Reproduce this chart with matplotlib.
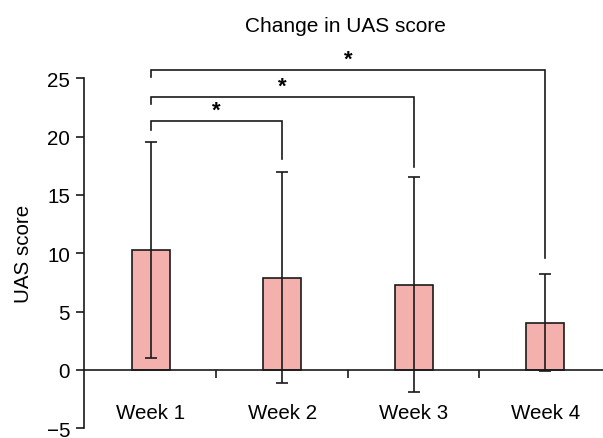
import matplotlib
matplotlib.use("Agg")
import matplotlib.pyplot as plt
import numpy as np

plt.rcParams['font.family'] = ['Liberation Sans', 'DejaVu Sans']

categories = ["Week 1", "Week 2", "Week 3", "Week 4"]
means = [10.3, 7.9, 7.3, 4.05]
sds = [9.25, 9.05, 9.2, 4.15]
yticks = [-5, 0, 5, 10, 15, 20, 25]
# brackets: (from index, to index, bar height, left leg bottom, right leg bottom)
brackets = [(0, 1, 21.3, 20.6, 18.1), (0, 2, 23.4, 22.8, 17.4), (0, 3, 25.7, 25.1, 9.6)]

fig = plt.figure(figsize=(6.03, 4.39), dpi=100)
ax = fig.add_axes([84/603, 1-429.3/439, 1-84/603, (429.3-79.3)/439])

x = np.arange(len(categories))
ax.bar(x, means, width=0.29, color='#F4B0AC', edgecolor='#1a1a1a', linewidth=1.2, zorder=2)
ax.errorbar(x, means, yerr=sds, fmt='none', ecolor='#1a1a1a', elinewidth=1.2,
            capsize=4, capthick=1.2, zorder=3)

ax.set_ylim(-5, 25)
ax.set_xlim(-0.507, 3.44)
ax.set_yticks(yticks)
ax.set_yticklabels([str(v).replace('-', '\u2212') for v in yticks], fontsize=14.8)

ax.spines['top'].set_visible(False)
ax.spines['right'].set_visible(False)
ax.spines['bottom'].set_position(('data', 0))
for s in ['left', 'bottom']:
    ax.spines[s].set_linewidth(1.2)
    ax.spines[s].set_color('#1a1a1a')

ax.set_xticks(x)
ax.set_xticklabels(categories, fontsize=14.8)
ax.tick_params(axis='x', which='major', length=0, pad=24)
ax.set_xticks([0.5, 1.5, 2.5], minor=True)
ax.tick_params(axis='x', which='minor', length=6, width=1.2, direction='out', color='#1a1a1a')
ax.tick_params(axis='y', length=6, width=1.2, color='#1a1a1a', pad=4)

for i, j, h, lb, rb in brackets:
    ax.plot([x[i], x[i], x[j], x[j]], [lb, h, h, rb], color='#1a1a1a', lw=1.2,
            clip_on=False, solid_joinstyle='miter')
    ax.text((x[i] + x[j]) / 2, h + 0.95, '*', ha='center', va='center', fontsize=16,
            fontweight='bold')

ax.set_ylabel('UAS score', fontsize=14.8, labelpad=10)
fig.text(345/603, 1-27/439, 'Change in UAS score', ha='center', va='center', fontsize=15)

fig.savefig('out.png', dpi=100)
